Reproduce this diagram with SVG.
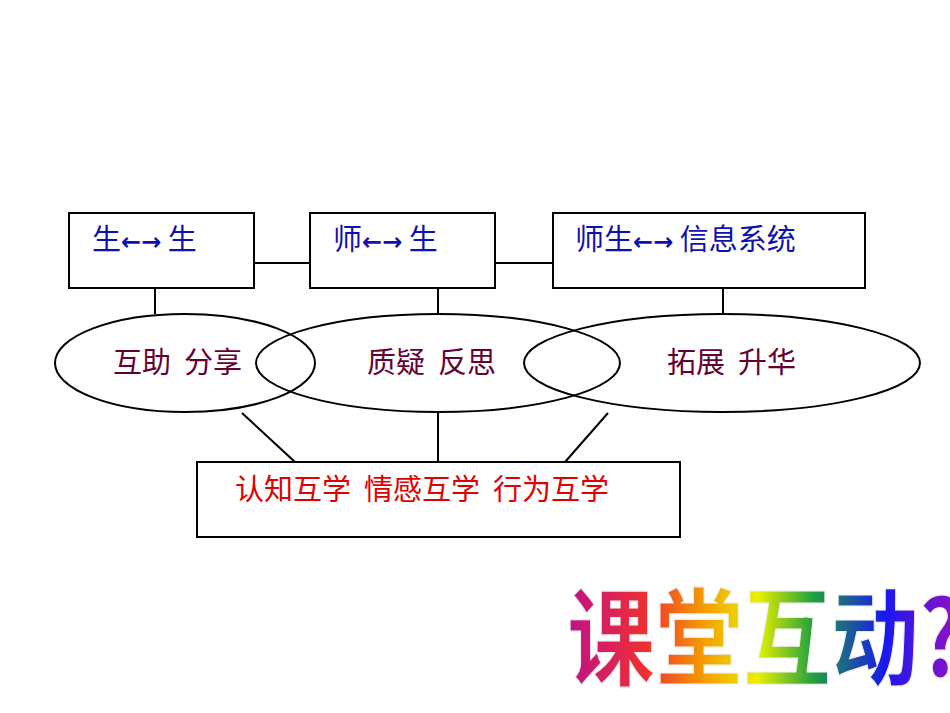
<svg xmlns="http://www.w3.org/2000/svg" width="950" height="713" viewBox="0 0 950 713">
<style>
.b{fill:none;stroke:#000;stroke-width:2}
.e{fill:none;stroke:#000;stroke-width:2}
.t{font-family:"Noto Sans CJK SC",sans-serif;font-size:29px;white-space:pre}
.a{font-family:"DejaVu Sans",sans-serif;font-weight:bold;font-size:24px}
.bl{fill:#1010b0}.m{fill:#660033}.r{fill:#e00000}
</style>
<defs>
<linearGradient id="g" x1="0" y1="0" x2="1" y2="0">
<stop offset="0" stop-color="#c0108a"/><stop offset="0.2" stop-color="#f03030"/><stop offset="0.35" stop-color="#f5a000"/><stop offset="0.48" stop-color="#e8f000"/><stop offset="0.62" stop-color="#20a040"/><stop offset="0.8" stop-color="#1818f0"/><stop offset="1" stop-color="#a010c0"/>
</linearGradient>
</defs>
<rect width="950" height="713" fill="#fff"/>
<g id="connectors" stroke="#000" stroke-width="2">
<line x1="254" y1="263" x2="310" y2="263"/><line x1="495" y1="263" x2="553" y2="263"/>
<line x1="155" y1="288" x2="155" y2="314"/><line x1="438" y1="288" x2="438" y2="314"/><line x1="723" y1="288" x2="723" y2="314"/>
<line x1="242" y1="413" x2="295" y2="462"/><line x1="438" y1="413" x2="438" y2="462"/><line x1="608" y1="413" x2="565" y2="462"/>
</g>
<g id="n1"><rect class="b" x="69" y="213" width="185" height="75"/><text class="t bl" x="92" y="250" xml:space="preserve">生<tspan class="a">←→</tspan> 生</text></g>
<g id="n2"><rect class="b" x="310" y="213" width="185" height="75"/><text class="t bl" x="333" y="250" xml:space="preserve">师<tspan class="a">←→</tspan> 生</text></g>
<g id="n3"><rect class="b" x="553" y="213" width="312" height="75"/><text class="t bl" x="575" y="250" xml:space="preserve">师生<tspan class="a">←→</tspan> 信息系统</text></g>
<g id="e1"><ellipse class="e" cx="185" cy="363" rx="130" ry="49"/><text class="t m" x="113" y="373" xml:space="preserve">互助  分享</text></g>
<g id="e2"><ellipse class="e" cx="438" cy="363" rx="182" ry="49"/><text class="t m" x="367" y="373" xml:space="preserve">质疑  反思</text></g>
<g id="e3"><ellipse class="e" cx="722" cy="363" rx="198" ry="49"/><text class="t m" x="667" y="373" xml:space="preserve">拓展  升华</text></g>
<g id="n4"><rect class="b" x="197" y="462" width="483" height="75"/><text class="t r" x="235" y="500" xml:space="preserve">认知互学  情感互学  行为互学</text></g>
<g id="title"><text transform="translate(567,677) scale(1,1.2)" font-family="'Noto Sans CJK SC',sans-serif" font-weight="bold" font-size="88" fill="url(#g)" stroke="#eee" stroke-width="1">课堂互动?</text></g>
</svg>
